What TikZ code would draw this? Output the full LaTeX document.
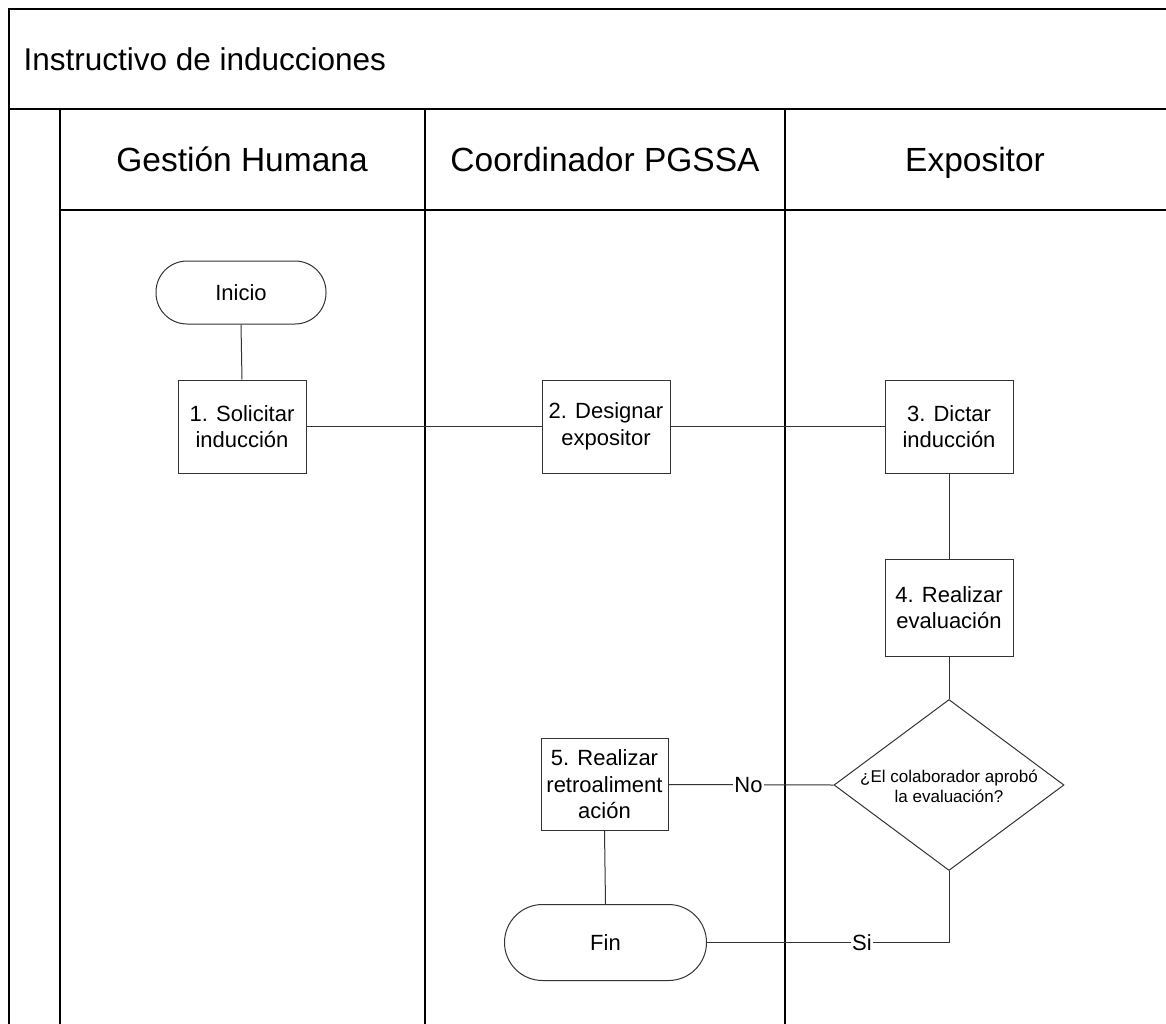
\documentclass[tikz,border=0pt]{standalone}
\usepackage{fontspec}
\setmainfont{Liberation Sans}
\usetikzlibrary{shapes.geometric}
\begin{document}
\begin{tikzpicture}[x=1pt,y=-1pt,
  lane/.style={line width=2.4pt,black},
  conn/.style={line width=1pt,draw=black!80},
  stepbox/.style={draw=black!80,line width=1pt,fill=white,minimum width=128pt,minimum height=93pt,align=center,inner sep=2pt,font=\fontsize{22}{26.5}\selectfont},
  term/.style={draw=black!80,line width=1pt,fill=white,rounded corners=31pt,align=center,font=\fontsize{22}{26.5}\selectfont},
  decis/.style={draw=black!80,line width=1pt,fill=white,diamond,minimum width=230pt,minimum height=171pt,inner sep=0pt,aspect=1.345},
  dectext/.style={align=center,font=\fontsize{17}{20.5}\selectfont},
  lbl/.style={fill=white,inner sep=1pt,font=\fontsize{22}{26}\selectfont},
  head/.style={anchor=base,font=\fontsize{33.5}{38}\selectfont}]
\useasboundingbox (0,0) rectangle (1166,1024);
% frame
\draw[lane] (9,1024) -- (9,9) -- (1166,9);
\draw[lane] (9,109) -- (1166,109);
\draw[lane] (60,1024) -- (60,109);
\draw[lane] (60,210) -- (1166,210);
\draw[lane] (425,109) -- (425,1024);
\draw[lane] (785,109) -- (785,1024);
\node[anchor=west,font=\fontsize{31.5}{36}\selectfont] (title) at (20,59) {Instructivo de inducciones};
\node[head] (h1) at (242,172) {Gestión Humana};
\node[head] (h2) at (605,172) {Coordinador PGSSA};
\node[head] (h3) at (975,172) {Expositor};
% nodes
\node[term,minimum width=170pt,minimum height=63pt] (ini) at (241,292.5) {Inicio};
\node[stepbox] (s1) at (242,426.5) {1. Solicitar\\inducción};
\node[stepbox] (s2) at (606,426.5) {2. Designar\\expositor};
\node[stepbox] (s3) at (949,426.5) {3. Dictar\\inducción};
\node[stepbox,minimum height=97pt] (s4) at (949,607.5) {4. Realizar\\evaluación};
\node[decis] (dec) at (949,785) {};
\node[dectext] (dect) at (949,786.5) {¿El colaborador aprobó\\la evaluación?};
\node[stepbox,minimum width=127pt,minimum height=92pt] (s5) at (604.5,784.5) {5. Realizar\\retroaliment\\ación};
\node[term,minimum width=202pt,minimum height=76pt,rounded corners=38pt] (fin) at (605.5,942.5) {Fin};
% connectors
\draw[conn] (ini.south) -- (s1.north);
\draw[conn] (s1.east) -- (s2.west);
\draw[conn] (s2.east) -- (s3.west);
\draw[conn] (s3.south) -- (s4.north);
\draw[conn] (s4.south) -- (dec.north);
\draw[conn] (dec.west) -- node[lbl,pos=0.515] (no) {No} (s5.east);
\draw[conn] (s5.south) -- (fin.north);
\draw[conn] (dec.south) |- node[lbl,pos=0.68] (si) {Si} (fin.east);
\end{tikzpicture}
\end{document}
